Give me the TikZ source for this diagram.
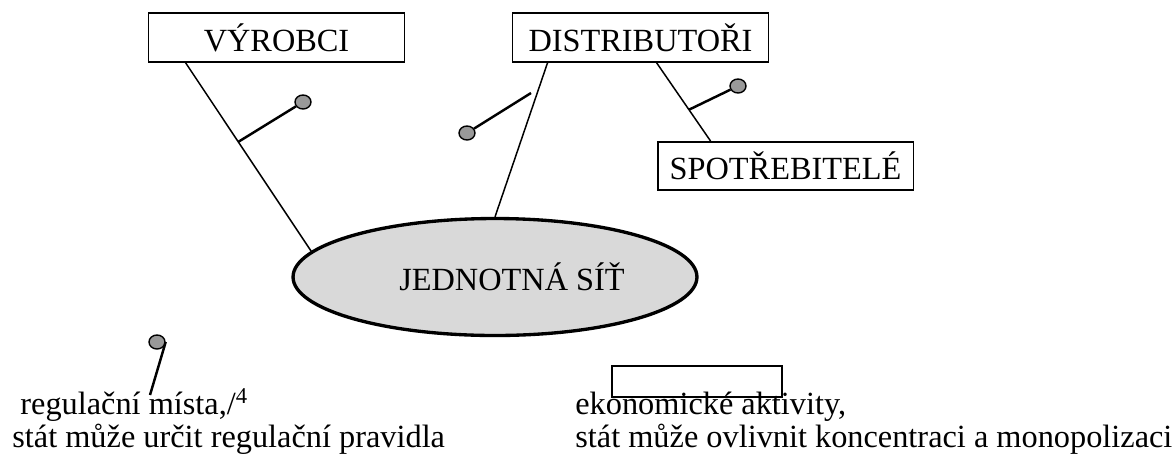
\documentclass[tikz,border=0pt]{standalone}
\usepackage{fontspec}
\setmainfont{Liberation Serif}
\usetikzlibrary{shapes.geometric,calc}
\definecolor{netGray}{HTML}{D9D9D9}
\definecolor{pinGray}{HTML}{999999}

\begin{document}
\begin{tikzpicture}[x=0.02cm,y=-0.02cm,
  every node/.style={font=\fontsize{18.4}{16.4}\selectfont},
  party/.style={draw,line width=1.1pt,minimum width=5.12cm,minimum height=0.97cm,inner sep=0pt},
  link/.style={line width=0.85pt},
  twig/.style={line width=1.4pt},
  pin/.style={ellipse,draw,line width=0.8pt,fill=pinGray,minimum width=0.32cm,minimum height=0.28cm,inner sep=0pt}]
  \useasboundingbox (0,0) rectangle (1176,461);
  % ---- market actors ----
  \node[party] (vyrobci) at (276.5,37.5) {VÝROBCI};
  \node[party] (distrib) at (640.5,37.5) {DISTRIBUTOŘI};
  \node[party,minimum height=0.96cm] (spotreb) at (785.5,166) {SPOTŘEBITELÉ};
  % ---- network ----
  \node[ellipse,draw,line width=1.9pt,fill=netGray,minimum width=8.08cm,minimum height=2.34cm,inner sep=0pt]
    (sit) at (495,277) {\hspace*{0.68cm}JEDNOTNÁ SÍŤ};
  % ---- connections ----
  \coordinate (v1) at ($(vyrobci.south west)+(38,0)$);
  \coordinate (d1) at ($(distrib.south west)+(36,0)$);
  \coordinate (d2) at ($(distrib.south west)+(145,0)$);
  \coordinate (s1) at ($(spotreb.north west)+(54,0)$);
  \draw[link] (v1) -- (sit.172) coordinate[pos=0.42] (vb);
  \draw[link] (d1) -- (sit.north);
  \draw[link] (d2) -- (s1) coordinate[pos=0.6] (sb);
  % ---- regulation pins ----
  \node[pin] (pin1) at (303,102) {};
  \node[pin] (pin2) at (467,133) {};
  \node[pin] (pin3) at (738,86) {};
  \node[pin] (pin4) at (157,342) {};
  \coordinate (db) at (531,93);
  \coordinate (rb) at (150,395);
  \draw[twig] (vb) -- (pin1);
  \draw[twig] (db) -- (pin2);
  \draw[twig] (sb) -- (pin3);
  \draw[twig] (pin4.east) -- (rb);
  % ---- notes ----
  \node[draw,line width=0.7pt,minimum width=3.4cm,minimum height=0.62cm,inner sep=0pt] (blank) at (697,381.5) {};
  \node[anchor=base west,align=left,inner sep=0pt] (regnote) at (12,447)
    {\ regulační místa,/\textsuperscript{4}\\stát může určit regulační pravidla};
  \node[anchor=base west,align=left,inner sep=0pt] (ekonote) at (575,447)
    {ekonomické aktivity,\\stát může ovlivnit koncentraci a monopolizaci};
\end{tikzpicture}
\end{document}
